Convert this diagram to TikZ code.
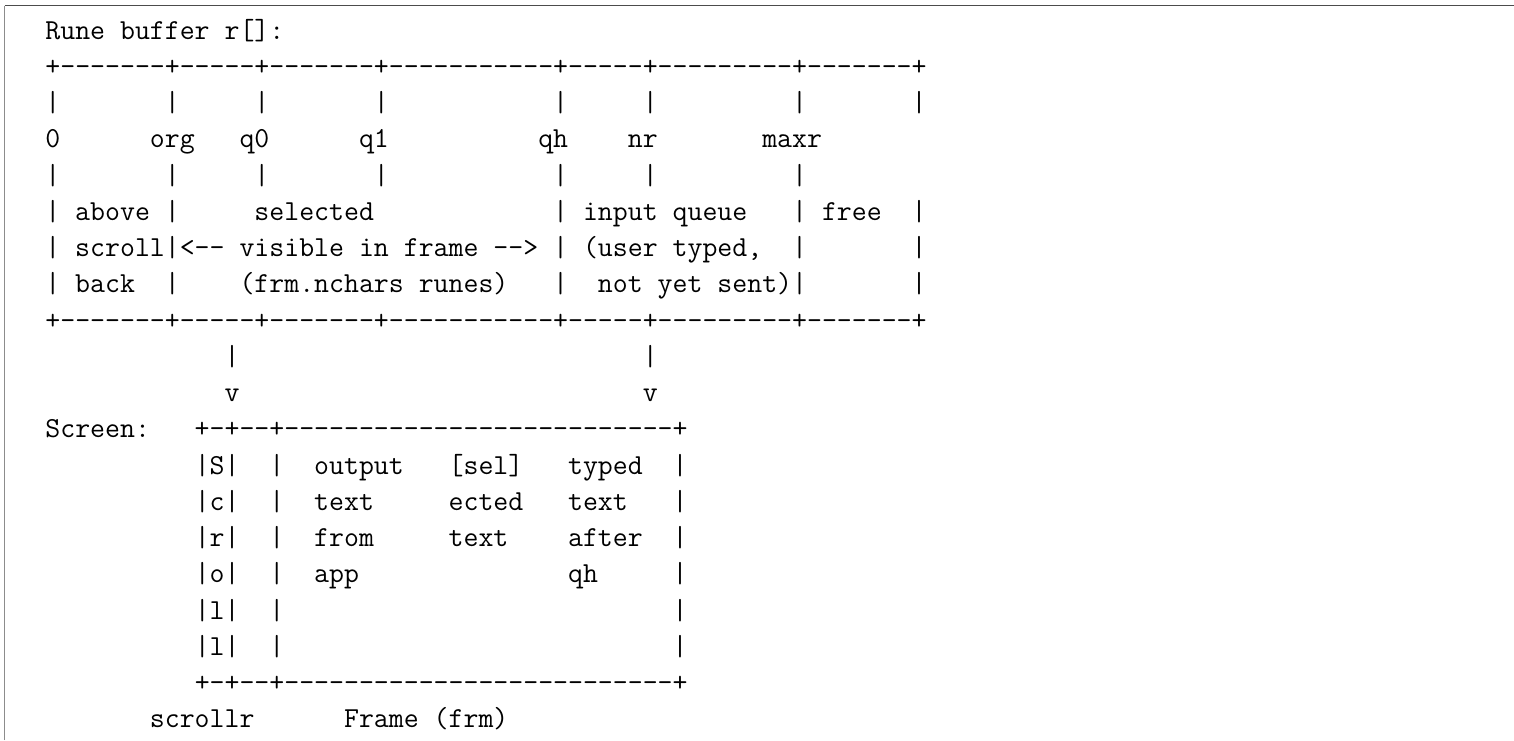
\documentclass[tikz,border=0pt]{standalone}
\begin{document}
\begin{tikzpicture}[x=0.5pt,y=-0.5pt,
  ln/.style={anchor=base west,inner sep=0pt,outer sep=0pt,text=black,
    font=\fontsize{14.5pt}{18pt}\selectfont\ttfamily}]
\useasboundingbox (0,0) rectangle (1514,740);
\fill[white] (0,0) rectangle (1514,740);
\draw[black!45,line width=0.6pt] (4.5,740) -- (4.5,5.5);
\draw[black!70,line width=0.8pt] (4.5,5.5) -- (1514,5.5);
\node[ln] (l1) at (45.4,39) {Rune~buffer~r[]:};
\node[ln] (l2) at (45.4,75.26) {+-------+-----+-------+-----------+-----+---------+-------+};
\node[ln] (l3) at (45.4,111.52) {|~~~~~~~|~~~~~|~~~~~~~|~~~~~~~~~~~|~~~~~|~~~~~~~~~|~~~~~~~|};
\node[ln] (l4) at (45.4,147.78) {0~~~~~~org~~~q0~~~~~~q1~~~~~~~~~~qh~~~~nr~~~~~~~maxr};
\node[ln] (l5) at (45.4,184.04) {|~~~~~~~|~~~~~|~~~~~~~|~~~~~~~~~~~|~~~~~|~~~~~~~~~|};
\node[ln] (l6) at (45.4,220.3) {|~above~|~~~~~selected~~~~~~~~~~~~|~input~queue~~~|~free~~|};
\node[ln] (l7) at (45.4,256.56) {|~scroll|<--~visible~in~frame~-->~|~(user~typed,~~|~~~~~~~|};
\node[ln] (l8) at (45.4,292.82) {|~back~~|~~~~(frm.nchars~runes)~~~|~~not~yet~sent)|~~~~~~~|};
\node[ln] (l9) at (45.4,329.08) {+-------+-----+-------+-----------+-----+---------+-------+};
\node[ln] (l10) at (45.4,365.34) {~~~~~~~~~~~~|~~~~~~~~~~~~~~~~~~~~~~~~~~~|};
\node[ln] (l11) at (45.4,401.6) {~~~~~~~~~~~~v~~~~~~~~~~~~~~~~~~~~~~~~~~~v};
\node[ln] (l12) at (45.4,437.86) {Screen:~~~+-+--+--------------------------+};
\node[ln] (l13) at (45.4,474.12) {~~~~~~~~~~|S|~~|~~output~~~[sel]~~~typed~~|};
\node[ln] (l14) at (45.4,510.38) {~~~~~~~~~~|c|~~|~~text~~~~~ected~~~text~~~|};
\node[ln] (l15) at (45.4,546.64) {~~~~~~~~~~|r|~~|~~from~~~~~text~~~~after~~|};
\node[ln] (l16) at (45.4,582.9) {~~~~~~~~~~|o|~~|~~app~~~~~~~~~~~~~~qh~~~~~|};
\node[ln] (l17) at (45.4,619.16) {~~~~~~~~~~|l|~~|~~~~~~~~~~~~~~~~~~~~~~~~~~|};
\node[ln] (l18) at (45.4,655.42) {~~~~~~~~~~|l|~~|~~~~~~~~~~~~~~~~~~~~~~~~~~|};
\node[ln] (l19) at (45.4,691.68) {~~~~~~~~~~+-+--+--------------------------+};
\node[ln] (l20) at (45.4,727.94) {~~~~~~~scrollr~~~~~~Frame~(frm)};
\end{tikzpicture}
\end{document}
